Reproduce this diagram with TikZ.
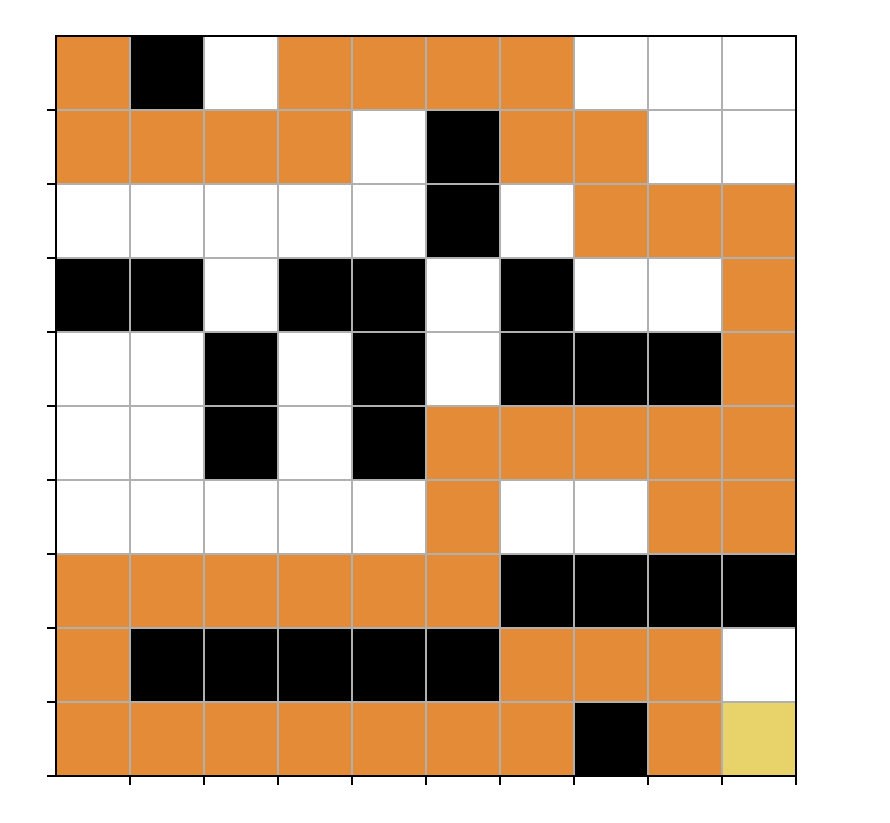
\documentclass[tikz,border=0pt]{standalone}
\definecolor{cO}{HTML}{E38B37}
\definecolor{cK}{HTML}{000000}
\definecolor{cW}{HTML}{FFFFFF}
\definecolor{cY}{HTML}{E8D36B}
\definecolor{gridgray}{HTML}{B0B0B0}
\begin{document}
\begin{tikzpicture}[x=1pt,y=-1pt,
  gridline/.style={draw=gridgray,line width=1.3pt},
  spine/.style={draw=black,line width=1.6pt},
  tickline/.style={draw=black,line width=1.4pt}]
\useasboundingbox[fill=white] (0,0) rectangle (890,822);
\foreach \row [count=\r from 0] in {
  {O,K,W,O,O,O,O,W,W,W},
  {O,O,O,O,W,K,O,O,W,W},
  {W,W,W,W,W,K,W,O,O,O},
  {K,K,W,K,K,W,K,W,W,O},
  {W,W,K,W,K,W,K,K,K,O},
  {W,W,K,W,K,O,O,O,O,O},
  {W,W,W,W,W,O,W,W,O,O},
  {O,O,O,O,O,O,K,K,K,K},
  {O,K,K,K,K,K,O,O,O,W},
  {O,O,O,O,O,O,O,K,O,Y}} {
  \foreach \c [count=\i from 0] in \row {
    \fill[fill=c\c] ({56+74*\i},{36+74*\r}) rectangle ++(74,74);
  }
}
\foreach \k in {1,...,9} {
  \draw[gridline] ({56+74*\k},36) -- ({56+74*\k},776);
  \draw[gridline] (56,{36+74*\k}) -- (796,{36+74*\k});
}
\draw[spine] (56,36) rectangle (796,776);
\foreach \k in {1,...,10} {
  \draw[tickline] (47,{36+74*\k}) -- (56,{36+74*\k});
  \draw[tickline] ({56+74*\k},776) -- ({56+74*\k},785);
}
\end{tikzpicture}
\end{document}
